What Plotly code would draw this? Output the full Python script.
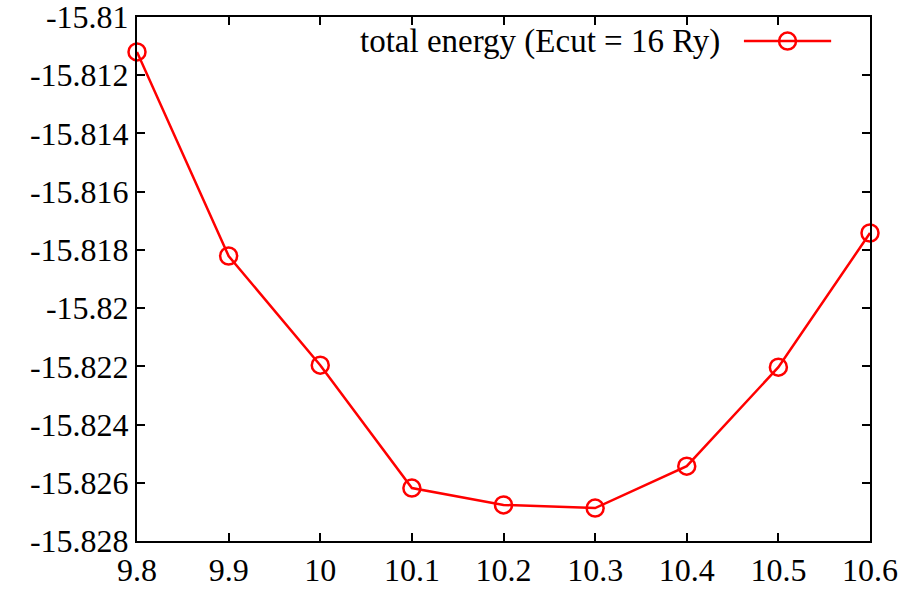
import plotly.graph_objects as go

lattice = [9.8, 9.9, 10.0, 10.1, 10.2, 10.3, 10.4, 10.5, 10.6]
energy = [-15.81120, -15.81821, -15.82196, -15.82618, -15.82676, -15.82687,
          -15.82543, -15.82203, -15.81742]
series_name = "total energy (Ecut = 16 Ry)"

xticks = [9.8, 9.9, 10.0, 10.1, 10.2, 10.3, 10.4, 10.5, 10.6]
xticklabels = ["9.8", "9.9", "10", "10.1", "10.2", "10.3", "10.4", "10.5", "10.6"]
yticks = [-15.81, -15.812, -15.814, -15.816, -15.818, -15.82, -15.822,
          -15.824, -15.826, -15.828]
yticklabels = ["-15.81", "-15.812", "-15.814", "-15.816", "-15.818", "-15.82",
               "-15.822", "-15.824", "-15.826", "-15.828"]

FONT = "Liberation Serif, Times New Roman, serif"
RED = "#ff0000"

fig = go.Figure()
fig.add_trace(go.Scatter(
    x=lattice, y=energy, mode="lines+markers", name=series_name,
    line=dict(color=RED, width=2.5),
    marker=dict(symbol="circle-open", size=17, color=RED, line=dict(width=2.5, color=RED)),
    cliponaxis=False, showlegend=False,
))

axis_common = dict(
    showline=True, linecolor="black", linewidth=2, mirror="ticks",
    ticks="inside", ticklen=8, tickwidth=1.5, tickcolor="black",
    showgrid=False, zeroline=False, automargin=False,
    ticklabeloverflow="allow",
    tickfont=dict(family=FONT, size=32, color="black"),
)
fig.update_xaxes(range=[9.8, 10.6], tickvals=xticks, ticktext=xticklabels, **axis_common)
fig.update_yaxes(range=[-15.828, -15.81], tickvals=yticks, ticktext=yticklabels, **axis_common)

# gnuplot-style legend: text on the left, sample on the right
lx0, lx1, ly = 0.828, 0.947, 0.954
fig.add_annotation(xref="paper", yref="paper", x=0.798, y=ly, text=series_name,
                   showarrow=False, xanchor="right", yanchor="middle",
                   font=dict(family=FONT, size=33, color="black"))
fig.add_shape(type="line", xref="paper", yref="paper", x0=lx0, x1=lx1, y0=ly, y1=ly,
              line=dict(color=RED, width=2.5))
fig.add_trace(go.Scatter(
    x=[(lx0 + lx1) / 2], y=[ly], xaxis="x2", yaxis="y2", mode="markers",
    marker=dict(symbol="circle-open", size=17, color=RED, line=dict(width=2.5, color=RED)),
    showlegend=False, hoverinfo="skip", cliponaxis=False,
))
fig.update_layout(
    xaxis2=dict(range=[0, 1], overlaying="x", visible=False, domain=[0, 1]),
    yaxis2=dict(range=[0, 1], overlaying="y", visible=False),
)

fig.update_layout(
    width=911, height=594,
    margin=dict(l=137, r=41, t=17, b=53),
    paper_bgcolor="white", plot_bgcolor="white",
    showlegend=False,
)
fig.write_html("out.html", config={"displayModeBar": False},
               post_script="document.body.style.margin='0';")
